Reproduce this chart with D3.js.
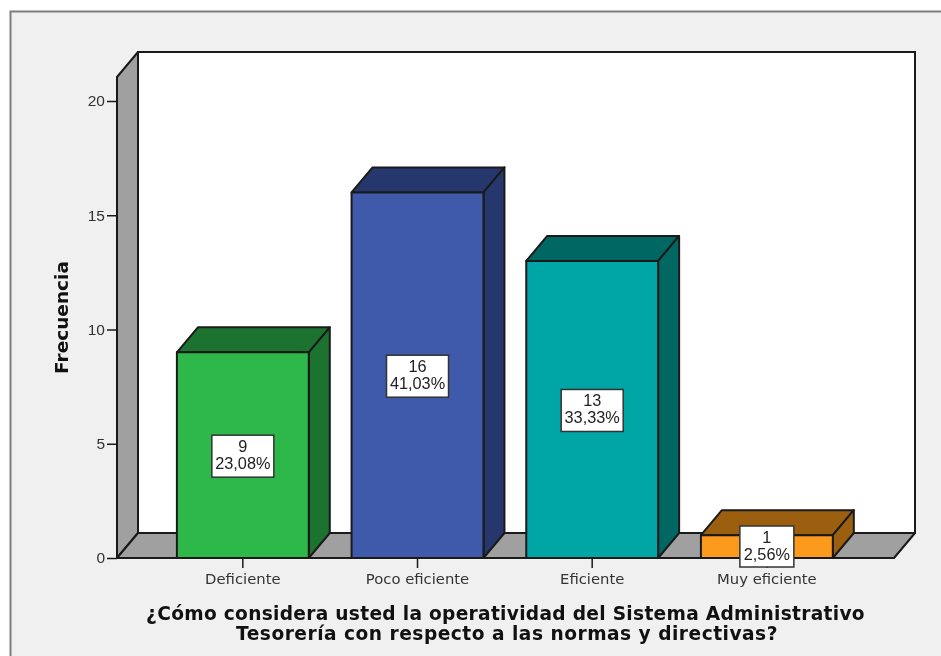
<!DOCTYPE html>
<html><head><meta charset="utf-8">
<script src="https://cdn.jsdelivr.net/npm/d3@7/dist/d3.min.js"></script>
<style>html,body{margin:0;padding:0;background:#fff;overflow:hidden}svg{display:block;filter:blur(.45px)}</style>
</head><body><svg id="c" width="941" height="656"></svg>
<script>
const categories = ["Deficiente","Poco eficiente","Eficiente","Muy eficiente"];
const counts = [9,16,13,1];
const percents = ["23,08%","41,03%","33,33%","2,56%"];
const frontColors = ["#2fb84a","#3f59ab","#00a5a5","#fb9a1c"];
const sideColors = ["#1c7330","#26376d","#006763","#9c5f10"];
const yTicks = [0,5,10,15,20];
const titleLines = ["¿Cómo considera usted la operatividad del Sistema Administrativo","Tesorería con respecto a las normas y directivas?"];
const yLabel = "Frecuencia";

const svg = d3.select("#c");
const dx = 21, dy = 25;
const x = d3.scaleBand().domain(categories).range([155.5,854.2]).paddingInner(.245).paddingOuter(.1225);
const y = d3.scaleLinear().domain([0,20]).range([558,101]);
const left = 117, right = 894, topFront = 77;
const ink = "#1a1a1a", wall = "#a0a0a0";

svg.append("rect").attr("x",10.5).attr("y",11.5).attr("width",960).attr("height",700)
  .attr("fill","#f0f0f0").attr("stroke","#7d7d7d").attr("stroke-width",2);

// back wall, side wall, floor
svg.append("rect").attr("x",left+dx).attr("y",topFront-dy).attr("width",right-left).attr("height",y(0)-topFront)
  .attr("fill","#fff").attr("stroke",ink).attr("stroke-width",2);
const poly = (pts,fill)=>svg.append("polygon").attr("points",pts.map(p=>p.join(",")).join(" "))
  .attr("fill",fill).attr("stroke",ink).attr("stroke-width",2).attr("stroke-linejoin","round");
poly([[left,topFront],[left+dx,topFront-dy],[left+dx,y(0)-dy],[left,y(0)]],wall);
poly([[left,y(0)],[left+dx,y(0)-dy],[right+dx,y(0)-dy],[right,y(0)]],wall);

// bars
categories.forEach((c,i)=>{
  const x0=x(c), x1=x0+x.bandwidth(), yT=y(counts[i]), yB=y(0);
  poly([[x0,yT],[x0+dx,yT-dy],[x1+dx,yT-dy],[x1,yT]],sideColors[i]);
  poly([[x1,yT],[x1+dx,yT-dy],[x1+dx,yB-dy],[x1,yB]],sideColors[i]);
  poly([[x0,yT],[x1,yT],[x1,yB],[x0,yB]],frontColors[i]);
});

// axes
const ay = svg.append("g").attr("transform",`translate(${left},0)`)
  .call(d3.axisLeft(y).tickValues(yTicks).tickSize(10).tickPadding(2));
ay.select(".domain").remove();
ay.selectAll("line").attr("stroke",ink).attr("stroke-width",1.5);
ay.selectAll("text").attr("font-family","'Liberation Sans',Arial,sans-serif").attr("font-size",15.5).attr("fill","#333");
const ax = svg.append("g").attr("transform",`translate(0,${y(0)})`)
  .call(d3.axisBottom(x).tickSize(10).tickPadding(5));
ax.select(".domain").remove();
ax.selectAll("line").attr("stroke",ink).attr("stroke-width",1.5);
ax.selectAll("text").attr("font-family","'DejaVu Sans',sans-serif").attr("font-size",14.8).attr("fill","#333");

// value labels
categories.forEach((c,i)=>{
  const cx=x(c)+x.bandwidth()/2;
  const cy=i===3 ? y(0)-11 : (y(0)+y(counts[i]))/2+1;
  svg.append("rect").attr("x",cx-(i===3?27:31)).attr("y",cy-21).attr("width",i===3?54:62).attr("height",i===3?41:42)
    .attr("fill","#fff").attr("stroke","#333").attr("stroke-width",1.5);
  const t=svg.append("text").attr("text-anchor","middle").attr("font-family","'Liberation Sans',Arial,sans-serif")
    .attr("font-size",16.3).attr("fill","#222");
  t.append("tspan").attr("x",cx).attr("y",cy-4).text(counts[i]);
  t.append("tspan").attr("x",cx).attr("y",cy+13).text(percents[i]);
});

// titles
svg.append("text").attr("transform","translate(68,317.5) rotate(-90)").attr("text-anchor","middle")
  .attr("font-family","'DejaVu Sans',sans-serif").attr("font-weight","bold").attr("font-size",18.5).attr("fill","#111").text(yLabel);
titleLines.forEach((l,i)=>svg.append("text").attr("x",i?507:505.5).attr("y",620+i*20).attr("text-anchor","middle").attr("letter-spacing",i?.5:.3)
  .attr("font-family","'DejaVu Sans',sans-serif").attr("font-weight","bold").attr("font-size",18.6).attr("fill","#111").text(l));
</script></body></html>
